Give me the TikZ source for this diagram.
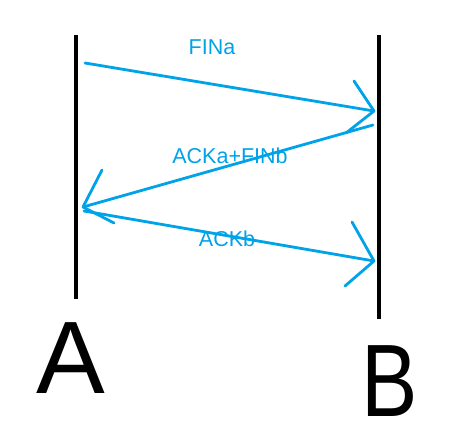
\documentclass[tikz,border=0pt]{standalone}
\usepackage{fontspec}
\setmainfont{Liberation Sans}
\definecolor{paintblue}{RGB}{0,162,232}
\begin{document}
\begin{tikzpicture}[x=1pt,y=-1pt,
  life/.style={draw=black,line width=4pt},
  msg/.style={draw=paintblue,line width=2.8pt,line cap=round,line join=round},
  lbl/.style={text=paintblue,font=\fontsize{21.5}{26}\selectfont,inner sep=0pt},
  big/.style={font=\fontsize{103}{110}\selectfont,inner sep=0pt}]
\useasboundingbox (0,0) rectangle (450,439);
% lifelines
\coordinate (Atop) at (76,35);
\coordinate (Abot) at (76,299);
\coordinate (Btop) at (379,35);
\coordinate (Bbot) at (379,319);
\draw[life] (Atop) -- (Abot);
\draw[life] (Btop) -- (Bbot);
\node[big,anchor=base] (A) at (71,393) {A};
\node[big,anchor=base,xscale=0.82] (B) at (390,416) {B};
% message 1
\coordinate (m1s) at (85,63);
\coordinate (m1e) at (374,111);
\draw[msg] (m1s) -- (m1e);
\draw[msg] (354,81) -- (m1e) -- (346,133);
% message 2
\coordinate (m2s) at (373,125);
\coordinate (m2e) at (83,207);
\draw[msg] (m2s) -- (m2e);
\draw[msg] (102,170) -- (m2e) -- (114,223);
% message 3
\coordinate (m3s) at (84,211);
\coordinate (m3e) at (374,261);
\draw[msg] (m3s) -- (m3e);
\draw[msg] (352,222) -- (m3e) -- (345,286);
% labels
\node[lbl] (l1) at (212,47) {FINa};
\node[lbl] (l2) at (230,156) {ACKa+FINb};
\node[lbl] (l3) at (227,239) {ACKb};
\end{tikzpicture}
\end{document}
